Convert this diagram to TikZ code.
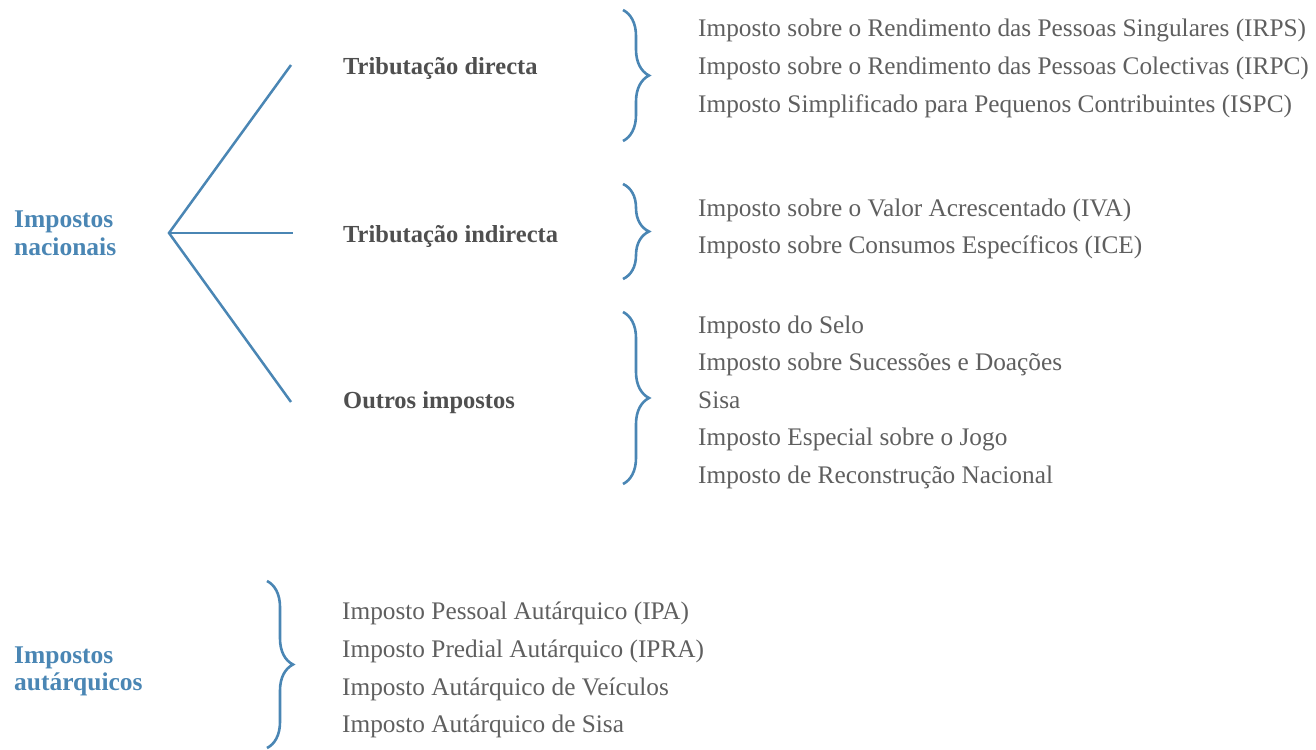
\documentclass[tikz,border=0pt]{standalone}
\usepackage{fontspec}
\setmainfont{Liberation Serif}
\usetikzlibrary{decorations.pathreplacing}
\definecolor{blueline}{HTML}{4A86B4}
\definecolor{graytext}{HTML}{5F5F5F}
\definecolor{darklabel}{HTML}{4F4F4F}
\tikzset{
  item/.style={anchor=base west, inner sep=0pt, text=graytext, font=\fontsize{25.3}{30}\selectfont},
  cat/.style={anchor=base west, inner sep=0pt, text=darklabel, font=\fontsize{24.5}{30}\selectfont\bfseries},
  head/.style={anchor=base west, inner sep=0pt, text=blueline, font=\fontsize{25.5}{27}\selectfont\bfseries},
  conn/.style={draw=blueline, line width=2.5pt},
  bracer/.style={draw=blueline, line width=2.6pt, decorate, decoration={brace, amplitude=26pt}}
}
\begin{document}
\begin{tikzpicture}[x=1pt,y=-1pt]
\useasboundingbox (0,0) rectangle (1316,749);
% headings
\node[head] (nac1) at (14,227.5) {Impostos};
\node[head] (nac2) at (14,255.5) {nacionais};
\node[head] (aut1) at (14,663) {Impostos};
\node[head] (aut2) at (14,690.5) {autárquicos};
% tree
\coordinate (hub) at (169,233);
\coordinate (e1) at (291,65);
\coordinate (e2) at (293,233);
\coordinate (e3) at (291,402);
\draw[conn] (e1) -- (hub) -- (e3);
\draw[conn] (hub) -- (e2);
% categories
\node[cat] (dir) at (343,75) {Tributação directa};
\node[cat] (ind) at (343,242) {Tributação indirecta};
\node[cat] (out) at (343,408) {Outros impostos};
% braces
\coordinate (b1t) at (623,10);  \coordinate (b1b) at (623,141);
\coordinate (b2t) at (623,184); \coordinate (b2b) at (623,279);
\coordinate (b3t) at (623,312); \coordinate (b3b) at (623,484);
\coordinate (b4t) at (267,581); \coordinate (b4b) at (267,748);
\draw[bracer] (b1t) -- (b1b);
\draw[bracer] (b2t) -- (b2b);
\draw[bracer] (b3t) -- (b3b);
\draw[bracer] (b4t) -- (b4b);
% items
\node[item] (i11) at (698,37) {Imposto sobre o Rendimento das Pessoas Singulares (IRPS)};
\node[item] (i12) at (698,75) {Imposto sobre o Rendimento das Pessoas Colectivas (IRPC)};
\node[item] (i13) at (698,113) {Imposto Simplificado para Pequenos Contribuintes (ISPC)};
\node[item] (i21) at (698,216) {Imposto sobre o Valor Acrescentado (IVA)};
\node[item] (i22) at (698,253) {Imposto sobre Consumos Específicos (ICE)};
\node[item] (i31) at (698,333) {Imposto do Selo};
\node[item] (i32) at (698,370.5) {Imposto sobre Sucessões e Doações};
\node[item] (i33) at (698,408) {Sisa};
\node[item] (i34) at (698,445.5) {Imposto Especial sobre o Jogo};
\node[item] (i35) at (698,483) {Imposto de Reconstrução Nacional};
\node[item] (i41) at (342,619) {Imposto Pessoal Autárquico (IPA)};
\node[item] (i42) at (342,657) {Imposto Predial Autárquico (IPRA)};
\node[item] (i43) at (342,695) {Imposto Autárquico de Veículos};
\node[item] (i44) at (342,732) {Imposto Autárquico de Sisa};
\end{tikzpicture}
\end{document}
